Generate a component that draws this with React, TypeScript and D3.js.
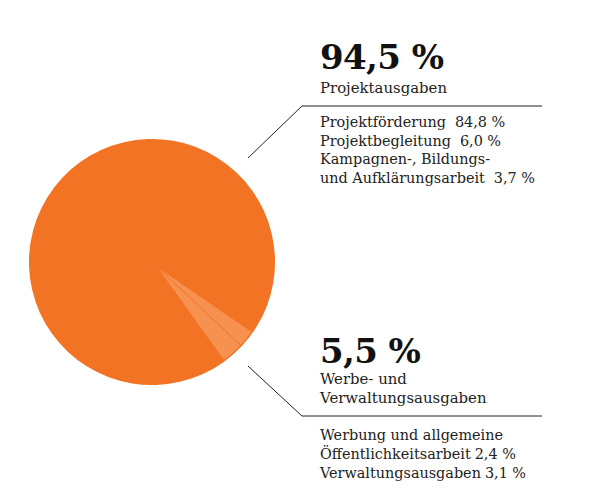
import React from "react";
import * as d3 from "d3";

const projectLabels: string[][] = [
  ["Projektförderung"],
  ["Projektbegleitung"],
  ["Kampagnen-, Bildungs-", "und Aufklärungsarbeit"],
];
const projectValues: number[] = [84.8, 6.0, 3.7];
const adminLabels: string[][] = [
  ["Werbung und allgemeine", "Öffentlichkeitsarbeit"],
  ["Verwaltungsausgaben"],
];
const adminValues: number[] = [2.4, 3.1];
const projectTotal = 94.5;
const adminTotal = 5.5;
const projectTitle = ["Projektausgaben"];
const adminTitle = ["Werbe- und", "Verwaltungsausgaben"];

const ORANGE = "#F37324";
const LIGHT = "#F6914F";
const FONT = "'DejaVu Serif', serif";

const fmt = (v: number) => d3.format(".1f")(v).replace(".", ",") + " %";

export default function App() {
  const cx = 152, cy = 262, r = 123;
  const deg = Math.PI / 180;
  const allValues = [...projectValues, ...adminValues];
  const projSpan = (d3.sum(projectValues) / d3.sum(allValues)) * 360;
  const start = (124.5 - projSpan) * deg;
  const pie = d3.pie<number>().sort(null).value((d) => d).startAngle(start).endAngle(start + 2 * Math.PI);
  const arcs = pie(allValues);
  const arc = d3.arc<any>().innerRadius(0).outerRadius(r);
  const lightArc = d3.arc<any>().innerRadius(0).outerRadius(116);
  const projArcs = arcs.slice(0, projectValues.length);
  const adminArcs = arcs.slice(projectValues.length);
  const fullDisc = { startAngle: projArcs[0].startAngle, endAngle: adminArcs[adminArcs.length - 1].endAngle };
  const midA = (adminArcs[0].startAngle + adminArcs[adminArcs.length - 1].endAngle) / 2;
  const off = 5.8;
  const ox = Math.sin(midA) * off, oy = -Math.cos(midA) * off;

  const tx = 320;
  const lineH = 18.6;

  const bodyLines = (labels: string[][], values: number[]) => {
    const out: { text: string; value?: string }[] = [];
    labels.forEach((ls, i) => {
      ls.forEach((l, j) => {
        out.push({ text: l, value: j === ls.length - 1 ? fmt(values[i]) : undefined });
      });
    });
    return out;
  };
  const topBody = bodyLines(projectLabels, projectValues);
  const botBody = bodyLines(adminLabels, adminValues);

  return (
    <svg width={604} height={495} style={{ position: "absolute", left: 0, top: 0, background: "#fff" }}>
      <g transform={`translate(${cx},${cy})`}>
        <path d={arc(fullDisc) || ""} fill={ORANGE} />
        <g transform={`translate(${ox},${oy})`}>
          {adminArcs.map((a, i) => (
            <path key={i} d={lightArc(a) || ""} fill={LIGHT} stroke={ORANGE} strokeWidth={0.8} />
          ))}
        </g>
      </g>
      <g fill="none" stroke="#222" strokeWidth={1}>
        <polyline points="248,158 302,106 542,106" />
        <polyline points="248,366 302,416 542,416" />
      </g>
      <g fontFamily={FONT} fill="#111">
        <text x={tx} y={69} fontSize={34} fontWeight="bold" letterSpacing={-0.6}>
          {fmt(projectTotal)}
        </text>
        {projectTitle.map((t, i) => (
          <text key={i} x={tx} y={93 + i * 19} fontSize={14.9} fill="#222">{t}</text>
        ))}
        {topBody.map((l, i) => (
          <text key={i} x={tx} y={127 + i * lineH} fontSize={14.4} fill="#222">
            {l.text}
            {l.value && <tspan dx={9}>{l.value}</tspan>}
          </text>
        ))}
        <text x={tx} y={363} fontSize={34} fontWeight="bold" letterSpacing={-0.6}>
          {fmt(adminTotal)}
        </text>
        {adminTitle.map((t, i) => (
          <text key={i} x={tx} y={384 + i * 19} fontSize={14.9} fill="#222">{t}</text>
        ))}
        {botBody.map((l, i) => (
          <text key={i} x={tx} y={440 + i * 19} fontSize={14.4} fill="#222">
            {l.text}
            {l.value && <tspan dx={4}>{l.value}</tspan>}
          </text>
        ))}
      </g>
    </svg>
  );
}
